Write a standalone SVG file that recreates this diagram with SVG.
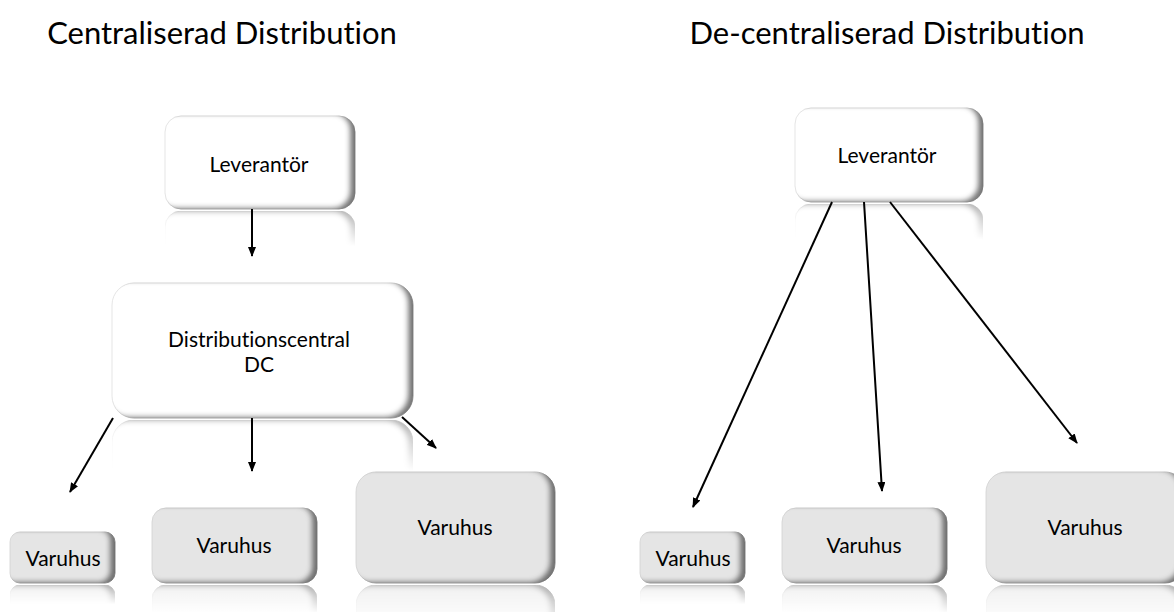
<svg xmlns="http://www.w3.org/2000/svg" xmlns:xlink="http://www.w3.org/1999/xlink" width="1174" height="612" viewBox="0 0 1174 612">
  <style>
    text { font-variant-ligatures: none; font-feature-settings: "liga" 0, "clig" 0; }
    .title { font-family: Lato, "Liberation Sans", sans-serif; font-size: 31px; fill: #000; text-anchor: middle; }
    .label { font-family: Lato, "Liberation Sans", sans-serif; font-size: 21px; fill: #000; text-anchor: middle; }
    .box-white { fill: #ffffff; stroke: #dedede; stroke-width: 0.8; filter: url(#bevel); }
    .box-grey { fill: #e5e5e5; stroke: #d2d2d2; stroke-width: 0.8; filter: url(#bevel); }
    .refl { mask: url(#fade); }
    .conn { fill: none; stroke: #000; stroke-width: 2; marker-end: url(#arrow); }
  </style>
  <defs>
    <!-- inner shading on the right and lower edge of each box -->
    <filter id="bevel" x="-10%" y="-10%" width="120%" height="120%">
      <feOffset in="SourceAlpha" dx="-6" dy="-2" result="off"/>
      <feGaussianBlur in="off" stdDeviation="2.5" result="blur"/>
      <feComposite in="SourceAlpha" in2="blur" operator="out" result="edge"/>
      <feFlood flood-color="#5a5a5a" flood-opacity="0.9"/>
      <feComposite in2="edge" operator="in" result="shade"/>
      <feMerge>
        <feMergeNode in="SourceGraphic"/>
        <feMergeNode in="shade"/>
      </feMerge>
    </filter>
    <!-- fading mirror image under each box -->
    <linearGradient id="fadeGrad" x1="0" y1="1" x2="0" y2="0">
      <stop offset="0" stop-color="#fff" stop-opacity="0.55"/>
      <stop offset="0.38" stop-color="#fff" stop-opacity="0"/>
    </linearGradient>
    <mask id="fade" maskContentUnits="objectBoundingBox">
      <rect x="0" y="0" width="1" height="1" fill="url(#fadeGrad)"/>
    </mask>
    <marker id="arrow" viewBox="0 0 10 8" refX="9" refY="4" markerWidth="10" markerHeight="8" markerUnits="userSpaceOnUse" orient="auto">
      <path d="M0,0 L10,4 L0,8 z" fill="#000"/>
    </marker>
  </defs>

  <rect width="1174" height="612" fill="#ffffff"/>

  <!-- headings -->
  <text class="title" x="222" y="44">Centraliserad Distribution</text>
  <text class="title" x="887" y="44">De-centraliserad Distribution</text>

  <!-- centralised side -->
  <g id="lev-central">
    <rect id="r-lev-central" class="box-white" x="165" y="116" width="190" height="93" rx="16"/>
    <use class="refl" xlink:href="#r-lev-central" transform="matrix(1 0 0 -1 0 420)"/>
    <text class="label" x="259" y="172">Leverantör</text>
  </g>
  <g id="dc">
    <rect id="r-dc" class="box-white" x="112" y="283" width="301" height="135" rx="22"/>
    <use class="refl" xlink:href="#r-dc" transform="matrix(1 0 0 -1 0 838)"/>
    <text class="label" x="259" y="347">Distributionscentral</text>
    <text class="label" x="259" y="372">DC</text>
  </g>
  <g id="varuhus-c1">
    <rect id="r-vc1" class="box-grey" x="10" y="532" width="105" height="51" rx="10"/>
    <use class="refl" xlink:href="#r-vc1" transform="matrix(1 0 0 -1 0 1168)"/>
    <text class="label" x="63" y="566">Varuhus</text>
  </g>
  <g id="varuhus-c2">
    <rect id="r-vc2" class="box-grey" x="152" y="508" width="165" height="75" rx="14"/>
    <use class="refl" xlink:href="#r-vc2" transform="matrix(1 0 0 -1 0 1168)"/>
    <text class="label" x="234" y="553">Varuhus</text>
  </g>
  <g id="varuhus-c3">
    <rect id="r-vc3" class="box-grey" x="356" y="472" width="199" height="111" rx="20"/>
    <use class="refl" xlink:href="#r-vc3" transform="matrix(1 0 0 -1 0 1168)"/>
    <text class="label" x="455" y="535">Varuhus</text>
  </g>

  <!-- decentralised side -->
  <g id="lev-decentral">
    <rect id="r-lev-decentral" class="box-white" x="795" y="108" width="188" height="94" rx="16"/>
    <use class="refl" xlink:href="#r-lev-decentral" transform="matrix(1 0 0 -1 0 406)"/>
    <text class="label" x="887" y="163">Leverantör</text>
  </g>
  <g id="varuhus-d1">
    <rect id="r-vd1" class="box-grey" x="640" y="532" width="105" height="51" rx="10"/>
    <use class="refl" xlink:href="#r-vd1" transform="matrix(1 0 0 -1 0 1168)"/>
    <text class="label" x="693" y="566">Varuhus</text>
  </g>
  <g id="varuhus-d2">
    <rect id="r-vd2" class="box-grey" x="782" y="508" width="165" height="75" rx="14"/>
    <use class="refl" xlink:href="#r-vd2" transform="matrix(1 0 0 -1 0 1168)"/>
    <text class="label" x="864" y="553">Varuhus</text>
  </g>
  <g id="varuhus-d3">
    <rect id="r-vd3" class="box-grey" x="986" y="472" width="199" height="111" rx="20"/>
    <use class="refl" xlink:href="#r-vd3" transform="matrix(1 0 0 -1 0 1168)"/>
    <text class="label" x="1085" y="535">Varuhus</text>
  </g>

  <!-- connectors -->
  <g id="connectors">
    <line class="conn" x1="252" y1="209" x2="252" y2="256"/>
    <line class="conn" x1="113" y1="418" x2="70" y2="492"/>
    <line class="conn" x1="252" y1="418" x2="252" y2="471"/>
    <line class="conn" x1="402" y1="417" x2="436" y2="448"/>
    <line class="conn" x1="832" y1="202" x2="693" y2="507"/>
    <line class="conn" x1="864" y1="202" x2="882" y2="491"/>
    <line class="conn" x1="890" y1="202" x2="1077" y2="443"/>
  </g>
</svg>
